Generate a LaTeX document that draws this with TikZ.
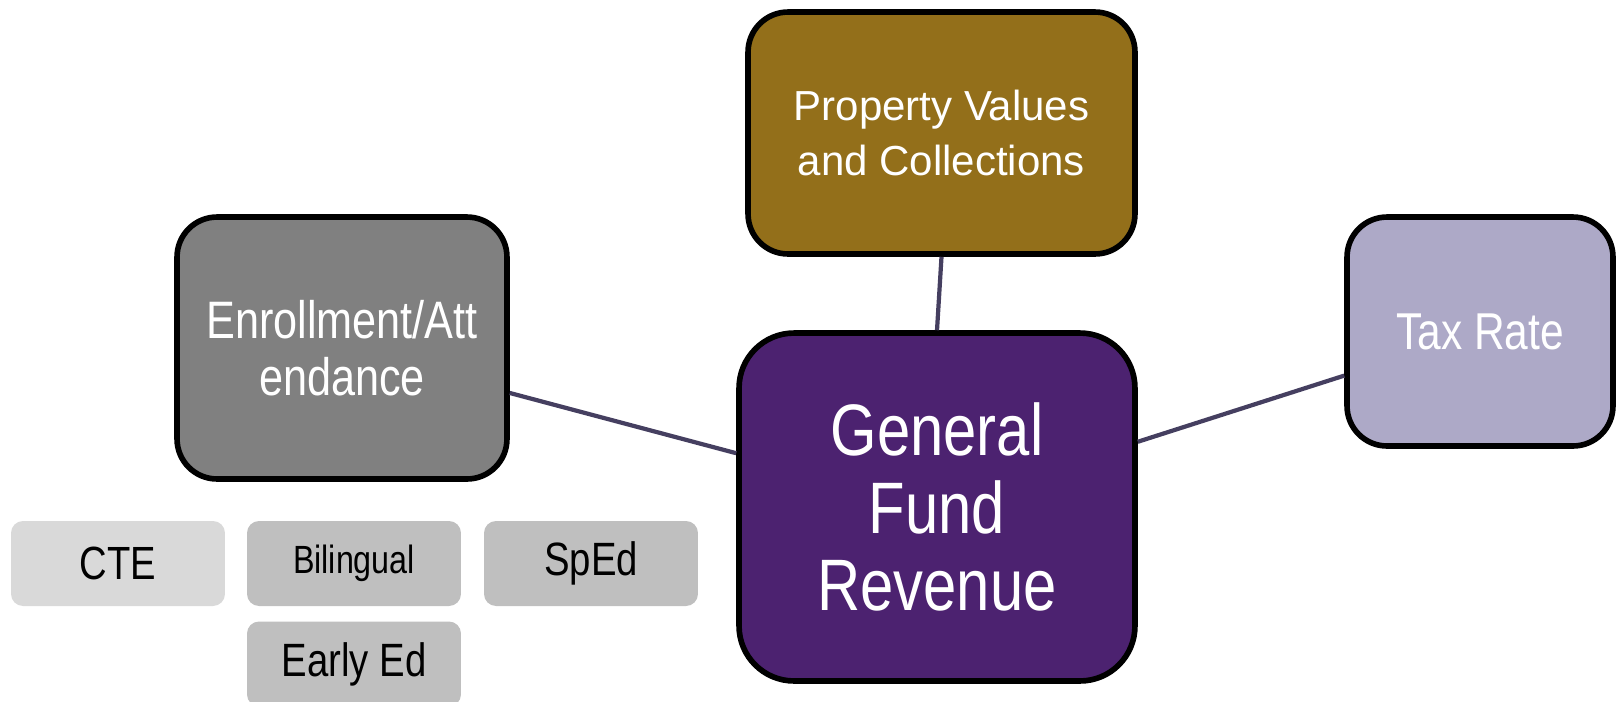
\documentclass[tikz,border=0pt]{standalone}
\usepackage{fontspec}
\setmainfont{Liberation Sans}
\newfontfamily\narrowfont[FakeStretch=0.82]{Liberation Sans}
\usepackage{tikz}
\definecolor{propgold}{HTML}{936F1A}
\definecolor{fundpurple}{HTML}{4C2270}
\definecolor{enrollgray}{HTML}{808080}
\definecolor{taxlilac}{HTML}{ADA9C7}
\definecolor{linkslate}{HTML}{453F60}
\definecolor{ctegray}{HTML}{D9D9D9}
\definecolor{subgray}{HTML}{BFBFBF}
\tikzstyle{bigbox}=[rectangle, draw=black, line width=3.2pt, rounded corners=0.8cm, text=white, align=center, inner sep=0pt]
\tikzstyle{subbox}=[rectangle, rounded corners=0.24cm, minimum width=4.28cm, minimum height=1.7cm, text=black, inner sep=0pt]
\tikzstyle{link}=[draw=linkslate, line width=2.4pt]
\newcommand{\fsz}[2]{\fontsize{#1}{#2}\selectfont}
\newcommand{\subnode}{\node[subbox, fill=subgray]}

\begin{document}
\begin{tikzpicture}[x=0.02cm, y=-0.02cm]
    \useasboundingbox (0,0) rectangle (1616,701);
    \node[bigbox, fill=propgold, minimum width=7.74cm, minimum height=4.84cm,
        font=\fsz{23.9pt}{31.7pt}] (prop) at (941.5,133)
        {Property Values\\and Collections};
    \node[bigbox, fill=fundpurple, rounded corners=1.1cm, minimum width=7.92cm, minimum height=6.96cm,
        font=\narrowfont\fsz{41.5pt}{44pt}] (fund) at (937,507)
        {General\\Fund\\Revenue};
    \node[bigbox, fill=enrollgray, minimum width=6.6cm, minimum height=5.24cm,
        font=\narrowfont\fsz{30pt}{32.5pt}] (enroll) at (342,348)
        {Enrollment/Att\\endance};
    \node[bigbox, fill=taxlilac, minimum width=5.32cm, minimum height=4.58cm,
        font=\narrowfont\fsz{29.5pt}{32pt}] (tax) at (1480,331.5)
        {Tax Rate};
    \node[subbox, fill=ctegray, font=\narrowfont\fsz{26.5pt}{28pt}] (cte) at (118,563.5) {CTE};
    \subnode[font=\narrowfont\fsz{22.4pt}{25pt}] (biling) at (354,563.5) {Bilingual};
    \subnode[font=\narrowfont\fsz{26.6pt}{28pt}] (sped) at (591,563.5) {SpEd};
    \subnode[font=\narrowfont\fsz{26.6pt}{28pt}] (early) at (354,664) {Early Ed};
    \path[link]
    (prop.south) edge (fund.north)
    (enroll.-15) edge (fund.165)
    (tax.198) edge (fund.18);
\end{tikzpicture}
\end{document}
